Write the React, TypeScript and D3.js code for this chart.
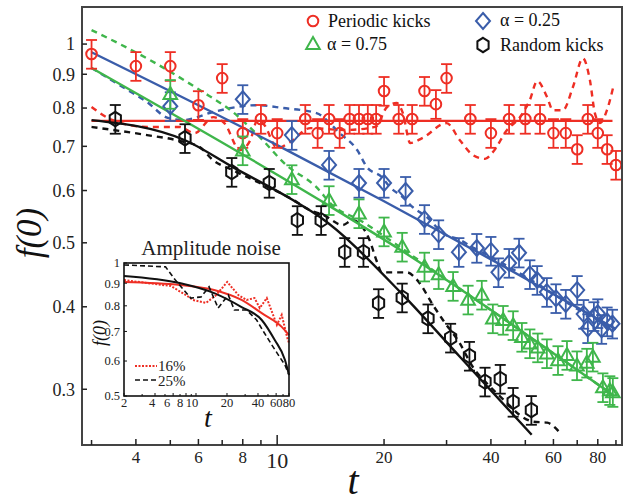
import React from "react";
import * as d3 from "d3";

// ---------- data ----------
const T_RED = [3,4,5,6,7,8,9,10,12,13,14,15,16,17,18,19,20,22,24,26,28,30,35,40,45,50,55,60,65,70,75,80,85,90];
const F_RED = [0.966,0.926,0.926,0.808,0.888,0.733,0.77,0.733,0.77,0.733,0.77,0.733,0.77,0.77,0.77,0.77,0.849,0.77,0.77,0.849,0.811,0.888,0.77,0.733,0.77,0.77,0.77,0.733,0.733,0.693,0.77,0.733,0.693,0.656];

const T_BLUE = [5,8,11,14,17,20,23,26,28.5,32.5,36.5,40,42,45,48,51.5,54,57.5,61,65,70,73,75,78,80,82,85,88];
const F_BLUE = [0.805,0.825,0.728,0.656,0.616,0.616,0.599,0.543,0.515,0.484,0.491,0.486,0.451,0.466,0.483,0.448,0.439,0.421,0.412,0.404,0.424,0.39,0.371,0.387,0.391,0.37,0.38,0.377];

const T_GREEN = [5,8,11,14,17,20,22.5,26,28.5,31.3,34.5,37.7,40.5,43.3,46.2,48.9,51.5,54.2,57.5,61.8,65.5,69.9,74.5,77.5,82.7,86.5,88.2];
const F_GREEN = [0.84,0.69,0.624,0.58,0.554,0.52,0.493,0.46,0.448,0.43,0.41,0.417,0.384,0.382,0.375,0.36,0.352,0.347,0.34,0.332,0.338,0.326,0.329,0.336,0.302,0.299,0.297];

const T_BLACK = [3.5,5.5,7.45,9.5,11.4,13.3,15.5,17.5,19.3,22.5,26.6,30.8,34.8,38.5,42.5,46.2,52];
const F_BLACK = [0.77,0.72,0.64,0.616,0.541,0.541,0.484,0.484,0.405,0.413,0.384,0.359,0.337,0.308,0.311,0.287,0.279];

const ERR_FRAC = 0.05;

// fits (solid)
const RED_FIT_T = [3, 88];
const RED_FIT_F = [0.765, 0.765];
const BLUE_FIT_T = [3,10,20,40,60,90];
const BLUE_FIT_F = [0.972,0.703,0.578,0.472,0.418,0.37];
const GREEN_FIT_T = [3,13.2,22.2,34.2,65.5,88.3];
const GREEN_FIT_F = [0.92,0.58,0.488,0.419,0.329,0.294];
const BLACK_FIT_T = [3,5.5,7.5,11.1,13.2,22.6,32.7,52.1];
const BLACK_FIT_F = [0.767,0.715,0.651,0.58,0.547,0.417,0.336,0.256];

// simulations (dashed)
const RED_DASH_T = [3,3.44,4.3,5.3,5.86,6.6,7.1,7.86,8.4,8.8,9.2,10,10.9,12.4,15.5,18.9,20.4,21.7,22.6,23.7,25.7,30,32.7,35.6,38.5,40.5,44.4,48.3,51.5,54,57.6,59.8,63.8,68.1,72.6,76,78.5,81.1,84.9,88.3];
const RED_DASH_F = [0.803,0.767,0.749,0.749,0.733,0.775,0.759,0.691,0.715,0.767,0.754,0.696,0.711,0.746,0.741,0.749,0.803,0.814,0.786,0.708,0.721,0.759,0.715,0.679,0.67,0.686,0.741,0.775,0.823,0.879,0.831,0.794,0.794,0.861,0.952,0.882,0.786,0.759,0.794,0.858];
const BLUE_DASH_T = [3,3.67,4.3,4.92,5.42,6.6,7.7,8.77,10.4,12.9,15,16.8,17.9,19.7,20.8,22.6,24.1,26.4,29.3,32.7,35.6,42.4,54.9,71.2,88.3];
const BLUE_DASH_F = [0.92,0.861,0.817,0.773,0.767,0.789,0.803,0.808,0.8,0.786,0.733,0.691,0.651,0.629,0.607,0.586,0.566,0.547,0.517,0.505,0.492,0.468,0.431,0.395,0.371];
const GREEN_DASH_T = [3,4.38,6.05,7.5,8.93,10.6,12.9,14.3,17.1,21.2,26.9,34.2,65.5,88.3];
const GREEN_DASH_F = [1.05,0.946,0.852,0.789,0.723,0.656,0.607,0.57,0.541,0.501,0.458,0.419,0.329,0.294];
const BLACK_DASH_T = [3,4.3,5.22,6.05,6.6,7.5,8.93,10.9,12.4,13.5,15.3,16.3,17.4,18.2,19.1,19.7,23.2,24.8,27.5,29.3,32.7,35.6,39,44.4,48.3,52.5,57.6,62.5];
const BLACK_DASH_F = [0.749,0.728,0.715,0.698,0.667,0.644,0.616,0.584,0.56,0.551,0.532,0.541,0.528,0.505,0.468,0.451,0.451,0.439,0.402,0.382,0.352,0.324,0.306,0.286,0.274,0.268,0.267,0.258];

// inset
const IN_RED_FIT_T = [2,7.1,15,27.7,43.5,68,80];
const IN_RED_FIT_F = [0.906,0.892,0.869,0.825,0.77,0.717,0.687];
const IN_BLACK_FIT_T = [2,7.1,15,27.7,43.5,58,73,80];
const IN_BLACK_FIT_F = [0.935,0.9,0.855,0.795,0.743,0.67,0.604,0.558];
const IN_RED_NOISE_T = [2,5.7,8,9.3,12.5,15.7,20.1,25.8,31,37,41.6,48.7,57,61,68,76.6,80];
const IN_RED_NOISE_F = [0.915,0.887,0.846,0.825,0.812,0.846,0.906,0.846,0.825,0.833,0.791,0.833,0.755,0.724,0.763,0.68,0.659];
const IN_BLACK_NOISE_T = [2,5.06,6.3,8.9,11.2,13.4,16.4,20.6,23.6,31,38.8,45.5,54.6,63.9,73,80];
const IN_BLACK_NOISE_F = [0.99,0.98,0.915,0.833,0.838,0.883,0.791,0.846,0.783,0.783,0.743,0.698,0.652,0.616,0.588,0.558];

const X_MAJOR = [4,6,8,10,20,40,60,80];
const X_MINOR = [3,5,7,9,30,50,70,90];
const Y_TICKS = [0.3,0.4,0.5,0.6,0.7,0.8,0.9,1];
const IN_X_TICKS = [2,4,6,8,10,20,40,60,80];
const IN_X_LABEL_NUDGE = [0,-3,-6,-6,-4,0,0,0,0];
const IN_X_MINOR = [3,5,7,9,30,50,70];
const IN_Y_TICKS = [0.5,0.6,0.7,0.8,0.9,1];

const RED = "#ee2e24";
const BLUE = "#3a5daa";
const GREEN = "#3fb64b";
const BLACK = "#111111";
const FONT = "Liberation Serif, Times New Roman, DejaVu Serif, serif";

// ---------- scales ----------
const X0 = 82, X1 = 622, Y0 = 7, Y1 = 445;
const x = d3.scaleLog().domain([2.82, 93.6]).range([X0, X1]);
const y = d3.scaleLog().domain([0.247, 1.138]).range([Y1, Y0]);
const ix = d3.scaleLog().domain([2, 80]).range([124, 289]);
const iy = d3.scaleLog().domain([0.5, 1]).range([396, 263]);

const zip = (t: number[], f: number[]) => t.map((v, i) => [v, f[i]] as [number, number]);
const mainLine = d3.line<[number, number]>().x(d => x(d[0])).y(d => y(d[1])).curve(d3.curveMonotoneX);
const insetSmooth = d3.line<[number, number]>().x(d => ix(d[0])).y(d => iy(d[1])).curve(d3.curveMonotoneX);
const insetLin = d3.line<[number, number]>().x(d => ix(d[0])).y(d => iy(d[1]));

type Shape = "circle" | "diamond" | "triangle" | "hex";

function Marker({ shape, cx, cy, color }: { shape: Shape; cx: number; cy: number; color: string }) {
  const sw = 2;
  if (shape === "circle") return <circle cx={cx} cy={cy} r={5.3} fill="none" stroke={color} strokeWidth={sw} />;
  let p = "";
  if (shape === "diamond") p = "M0,-8L7,0L0,8L-7,0Z";
  if (shape === "triangle") p = "M0,-7L6.8,5L-6.8,5Z";
  if (shape === "hex") {
    const r = 7.2;
    p = d3.range(6).map(k => {
      const a = -Math.PI / 2 + (k * Math.PI) / 3;
      return `${k ? "L" : "M"}${(r * 0.9 * Math.cos(a)).toFixed(2)},${(r * Math.sin(a)).toFixed(2)}`;
    }).join("") + "Z";
  }
  return <path d={p} transform={`translate(${cx},${cy})`} fill="none" stroke={color} strokeWidth={sw} strokeLinejoin="miter" />;
}

function Series({ t, f, color, shape }: { t: number[]; f: number[]; color: string; shape: Shape }) {
  return (
    <g>
      {t.map((tv, i) => {
        const cx = x(tv), cy = y(f[i]);
        const yt = y(f[i] * (1 + ERR_FRAC)), yb = y(f[i] * (1 - ERR_FRAC));
        return (
          <g key={i} stroke={color} strokeWidth={1.8}>
            <line x1={cx} x2={cx} y1={yt} y2={yb} />
            <line x1={cx - 5.5} x2={cx + 5.5} y1={yt} y2={yt} />
            <line x1={cx - 5.5} x2={cx + 5.5} y1={yb} y2={yb} />
          </g>
        );
      })}
      {t.map((tv, i) => (
        <Marker key={"m" + i} shape={shape} cx={x(tv)} cy={y(f[i])} color={color} />
      ))}
    </g>
  );
}

export default function App() {
  const dash = "6,5";
  return (
    <svg width={625} height={502} style={{ position: "absolute", left: 0, top: 0, background: "#fff", fontFamily: FONT }}>
      <rect x={0} y={0} width={625} height={502} fill="#fff" />
      <defs>
        <clipPath id="plotclip">
          <rect x={X0} y={Y0} width={X1 - X0} height={Y1 - Y0} />
        </clipPath>
      </defs>

      <g clipPath="url(#plotclip)" fill="none">
        <path d={mainLine(zip(RED_DASH_T, RED_DASH_F)) || ""} stroke={RED} strokeWidth={2.4} strokeDasharray={dash} />
        <path d={mainLine(zip(BLUE_DASH_T, BLUE_DASH_F)) || ""} stroke={BLUE} strokeWidth={2.4} strokeDasharray={dash} />
        <path d={mainLine(zip(GREEN_DASH_T, GREEN_DASH_F)) || ""} stroke={GREEN} strokeWidth={2.4} strokeDasharray={dash} />
        <path d={mainLine(zip(BLACK_DASH_T, BLACK_DASH_F)) || ""} stroke={BLACK} strokeWidth={2.4} strokeDasharray={dash} />
        <path d={mainLine(zip(RED_FIT_T, RED_FIT_F)) || ""} stroke={RED} strokeWidth={2.4} />
        <path d={mainLine(zip(BLUE_FIT_T, BLUE_FIT_F)) || ""} stroke={BLUE} strokeWidth={2.4} />
        <path d={mainLine(zip(GREEN_FIT_T, GREEN_FIT_F)) || ""} stroke={GREEN} strokeWidth={2.4} />
        <path d={mainLine(zip(BLACK_FIT_T, BLACK_FIT_F)) || ""} stroke={BLACK} strokeWidth={2.4} />
      </g>

      <Series t={T_RED} f={F_RED} color={RED} shape="circle" />
      <Series t={T_BLUE} f={F_BLUE} color={BLUE} shape="diamond" />
      <Series t={T_GREEN} f={F_GREEN} color={GREEN} shape="triangle" />
      <Series t={T_BLACK} f={F_BLACK} color={BLACK} shape="hex" />

      <rect x={X0} y={Y0} width={X1 - X0} height={Y1 - Y0} fill="none" stroke="#444" strokeWidth={2} />

      {X_MAJOR.map(v => (
        <g key={"xm" + v}>
          <line x1={x(v)} x2={x(v)} y1={Y1} y2={Y1 - (v === 10 ? 10 : 6)} stroke="#222" strokeWidth={1.5} />
          <text x={x(v)} y={v === 10 ? 468 : 463} textAnchor="middle" fontSize={v === 10 ? 22 : 17} fill="#222">{v}</text>
        </g>
      ))}
      {X_MINOR.map(v => (
        <line key={"xn" + v} x1={x(v)} x2={x(v)} y1={Y1} y2={Y1 - 5} stroke="#222" strokeWidth={1.5} />
      ))}
      {Y_TICKS.map(v => (
        <g key={"y" + v}>
          <line x1={X0} x2={X0 + 5} y1={y(v)} y2={y(v)} stroke="#222" strokeWidth={1.5} />
          <text x={75} y={y(v)} dy="0.35em" textAnchor="end" fontSize={18} fill="#222">{v}</text>
        </g>
      ))}

      <text x={353} y={494} textAnchor="middle" fontSize={40} fontStyle="italic" fill="#111">t</text>
      <text transform="translate(41,233) rotate(-90)" textAnchor="middle" fontSize={35} fontStyle="italic" fill="#111">f(0)</text>

      <Marker shape="circle" cx={313} cy={21} color={RED} />
      <text x={328} y={27} fontSize={18} fill="#111">Periodic kicks</text>
      <Marker shape="diamond" cx={483} cy={21} color={BLUE} />
      <text x={500} y={26} fontSize={18} fill="#111">α = 0.25</text>
      <Marker shape="triangle" cx={313} cy={44} color={GREEN} />
      <text x={327} y={50} fontSize={18} fill="#111">α = 0.75</text>
      <Marker shape="hex" cx={483} cy={45} color={BLACK} />
      <text x={500} y={51} fontSize={18} fill="#111">Random kicks</text>

      <g>
        <text x={211} y={255} textAnchor="middle" fontSize={21} fill="#222">Amplitude noise</text>
        <rect x={124} y={263} width={165} height={133} fill="#fff" />
        <path d={insetSmooth(zip(IN_RED_FIT_T, IN_RED_FIT_F)) || ""} fill="none" stroke={RED} strokeWidth={2} />
        <path d={insetSmooth(zip(IN_BLACK_FIT_T, IN_BLACK_FIT_F)) || ""} fill="none" stroke={BLACK} strokeWidth={2} />
        <path d={insetLin(zip(IN_RED_NOISE_T, IN_RED_NOISE_F)) || ""} fill="none" stroke={RED} strokeWidth={2} strokeDasharray="2,1.5" />
        <path d={insetLin(zip(IN_BLACK_NOISE_T, IN_BLACK_NOISE_F)) || ""} fill="none" stroke={BLACK} strokeWidth={1.6} strokeDasharray="5,3" />
        <rect x={124} y={263} width={165} height={133} fill="none" stroke="#111" strokeWidth={1.6} />
        {IN_X_TICKS.map((v, i) => (
          <g key={"ix" + v}>
            <line x1={ix(v)} x2={ix(v)} y1={396} y2={393} stroke="#111" strokeWidth={1} />
            <text x={ix(v) + IN_X_LABEL_NUDGE[i]} y={407} textAnchor="middle" fontSize={12.5} fill="#222">{v}</text>
          </g>
        ))}
        {IN_X_MINOR.map(v => (
          <line key={"ixn" + v} x1={ix(v)} x2={ix(v)} y1={396} y2={394} stroke="#111" strokeWidth={1} />
        ))}
        {IN_Y_TICKS.map(v => (
          <g key={"iy" + v}>
            <line x1={124} x2={127} y1={iy(v)} y2={iy(v)} stroke="#111" strokeWidth={1} />
            <text x={120} y={iy(v)} dy="0.35em" textAnchor="end" fontSize={12.5} fill="#222">{v}</text>
          </g>
        ))}
        <text x={208} y={427} textAnchor="middle" fontSize={28} fontStyle="italic" fill="#111">t</text>
        <text transform="translate(106,333) rotate(-90)" textAnchor="middle" fontSize={18} fontStyle="italic" fill="#111">f(0)</text>
        <line x1={135} x2={157} y1={366} y2={366} stroke={RED} strokeWidth={2} strokeDasharray="2,1.5" />
        <text x={158} y={371} fontSize={15} fill="#222">16%</text>
        <line x1={135} x2={157} y1={380} y2={380} stroke={BLACK} strokeWidth={1.6} strokeDasharray="5,3" />
        <text x={158} y={386} fontSize={15} fill="#222">25%</text>
      </g>
    </svg>
  );
}
